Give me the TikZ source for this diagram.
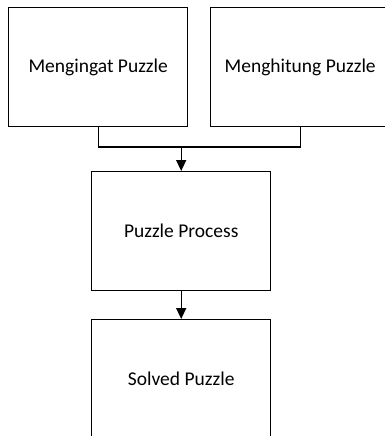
\documentclass[tikz,border=0pt]{standalone}
\usepackage{fontspec}
\setmainfont{Carlito}
\usetikzlibrary{arrows.meta}
\begin{document}
\begin{tikzpicture}[x=1pt,y=-1pt,
  blk/.style={draw=black,line width=1.4pt,minimum width=179pt,minimum height=119pt,inner sep=0pt,font=\fontsize{19.5}{23}\selectfont,anchor=north west},
  conn/.style={line width=1.4pt},
  arr/.style={conn,-{Triangle[length=11pt,width=10pt]}}]
\useasboundingbox (0,0) rectangle (385,436);
\clip (0,0) rectangle (385,436);
\fill[white] (0,0) rectangle (385,436);
\node[blk] (m1) at (8,7) {Mengingat Puzzle};
\node[blk] (m2) at (210,7) {Menghitung Puzzle};
\node[blk] (pp) at (91,171) {Puzzle Process};
\node[blk] (sp) at (91,319) {Solved Puzzle};
\coordinate (j) at (pp.north |- 0,147);
\draw[conn] (m1.south) |- (j) -| (m2.south);
\draw[arr] (j) -- (pp.north);
\draw[arr] (pp.south) -- (sp.north);
\end{tikzpicture}
\end{document}
